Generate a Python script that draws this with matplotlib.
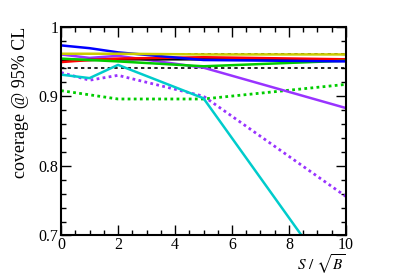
import matplotlib
matplotlib.use('Agg')
from matplotlib import pyplot as plt
from matplotlib.ticker import MultipleLocator, FixedLocator, FuncFormatter

plt.rcParams['font.family'] = ['Liberation Serif', 'DejaVu Serif']
plt.rcParams['mathtext.fontset'] = 'stix'

s_over_sqrtb = [0, 1, 2, 5, 10]

cov_blue = [0.973, 0.969, 0.963, 0.952, 0.950]
cov_yellow = [0.961, 0.961, 0.961, 0.960, 0.960]
cov_purple = [0.960, 0.955, 0.958, 0.941, 0.883]
cov_black = [0.952, 0.952, 0.953, 0.953, 0.952]
cov_green = [0.954, 0.952, 0.950, 0.943, 0.951]
cov_red = [0.949, 0.952, 0.954, 0.956, 0.953]
cov_cyan = [0.931, 0.926, 0.945, 0.897, 0.611]
cov_purple_dot = [0.934, 0.923, 0.930, 0.900, 0.756]
cov_green_dot = [0.908, 0.902, 0.896, 0.896, 0.917]

band_lo = 0.94
band_hi = 0.96


def main():
    fig = plt.figure(figsize=(4.07, 2.77), dpi=100)
    ax = fig.add_axes([0.150, 0.150, 0.700, 0.754])

    x = s_over_sqrtb
    ax.axhline(band_hi, color='black', ls=(0, (2, 2)), lw=1.2)
    ax.axhline(band_lo, color='black', ls=(0, (2, 2)), lw=1.2)

    ax.plot(x, cov_green_dot, color='#00cc00', ls=(0, (1, 1.2)), lw=2)
    ax.plot(x, cov_purple_dot, color='#9933ff', ls=(0, (1, 1.2)), lw=2)
    ax.plot(x, cov_cyan, color='#00cccc', lw=1.8)
    ax.plot(x, cov_purple, color='#9933ff', lw=1.8)
    ax.plot(x, cov_black, color='black', lw=1.8)
    ax.plot(x, cov_red, color='#ff0000', lw=1.8)
    ax.plot(x, cov_green, color='#00cc00', lw=1.8)
    ax.plot(x, cov_blue, color='#0000ff', lw=1.8)
    ax.plot(x, cov_yellow, color='#cccc00', lw=1.8)

    ax.set_xlim(0, 10)
    ax.set_ylim(0.7, 1.0)

    ax.xaxis.set_major_locator(MultipleLocator(2))
    ax.xaxis.set_minor_locator(MultipleLocator(0.5))
    ax.yaxis.set_major_locator(FixedLocator([0.7, 0.8, 0.9, 1.0]))
    ax.yaxis.set_minor_locator(MultipleLocator(0.02))
    ax.yaxis.set_major_formatter(FuncFormatter(lambda v, p: '%g' % round(v, 2)))

    ax.tick_params(which='both', direction='in', top=True, right=True,
                   labelsize=11.5, width=1.0, pad=2)
    ax.tick_params(axis='x', pad=1)
    ax.tick_params(which='major', length=7)
    ax.tick_params(which='minor', length=3.5)
    for sp in ax.spines.values():
        sp.set_linewidth(1.5)

    ax.set_ylabel('coverage @ 95% CL', fontsize=13, loc='top', labelpad=7)
    fig.text(0.848, 0.004, r'$S\ /\ \sqrt{B}$', fontsize=11,
             ha='right', va='bottom')

    fig.savefig('out.png', dpi=100)


if __name__ == '__main__':
    main()
